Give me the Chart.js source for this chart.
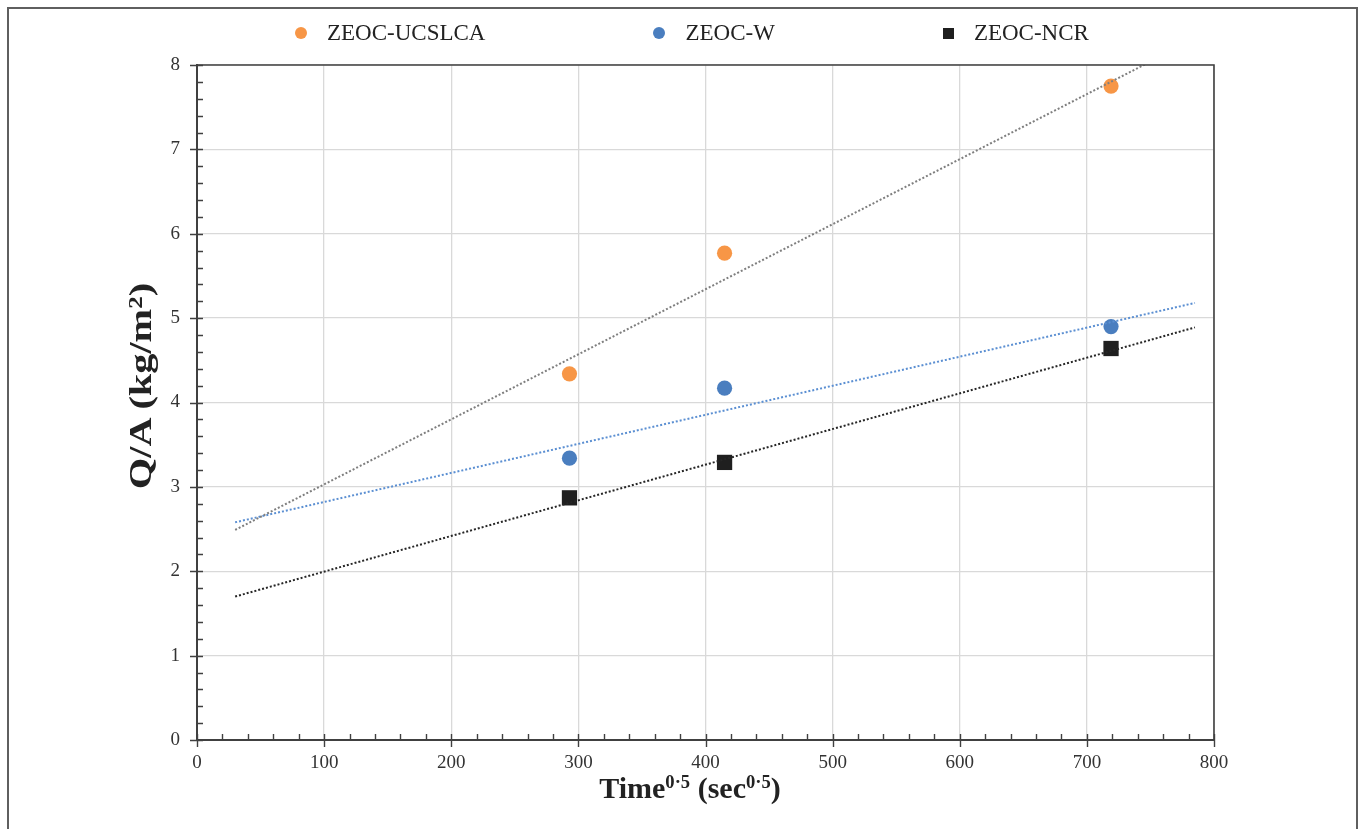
<!DOCTYPE html>
<html>
<head>
<meta charset="utf-8">
<script src="https://cdn.jsdelivr.net/npm/chart.js@4.4.1/dist/chart.umd.min.js"></script>
<style>
  body { margin: 0; background: #fff; }
  #wrap { position: relative; width: 1360px; height: 829px; overflow: hidden; }
  #frame {
    position: absolute; left: 7px; top: 7px; width: 1347px; height: 840px;
    border: 2px solid #5f5f5f; border-bottom: none;
  }
  #legend {
    position: absolute; left: 295px; top: 18px; display: flex; gap: 168px;
    font-family: "Liberation Serif", "Times New Roman", serif; font-size: 23px; color: #222;
  }
  .item { display: flex; align-items: center; height: 30px; }
  .mark { display: inline-block; margin-right: 20px; }
  .axis-title {
    position: absolute; font-family: "Liberation Serif", "Times New Roman", serif;
    font-weight: bold; color: #222; text-align: center; white-space: nowrap;
  }
  .axis-title sup { font-size: 62%; vertical-align: 0; position: relative; top: -0.55em; }
  #xTitle { left: 540px; width: 300px; top: 769px; height: 38px; line-height: 38px; font-size: 30px; }
  #yTitle {
    left: -5px; width: 300px; top: 367px; height: 38px; line-height: 38px; font-size: 32px;
    transform: translateX(-5px) rotate(-90deg) scale(1.26, 1);
  }
  #yTitle sup { top: -0.45em; }
</style>
</head>
<body>
<div id="wrap">
  <canvas id="chart" width="1360" height="829"></canvas>
  <div id="frame"></div>
  <div id="legend"></div>
  <div id="xTitle" class="axis-title"></div>
  <div id="yTitle" class="axis-title"></div>
</div>
<script>
// time^0.5
const timeSqrt = [293, 415, 719];

const seriesNames = ["ZEOC-UCSLCA", "ZEOC-W", "ZEOC-NCR"];
const ucslcaVals = [4.34, 5.77, 7.75];
const wVals = [3.34, 4.17, 4.90];
const ncrVals = [2.87, 3.29, 4.64];

// dotted trendline ends
const trendX = [30, 785];
const ucslcaTrend = [2.49, 8.31];
const wTrend = [2.58, 5.18];
const ncrTrend = [1.70, 4.89];

const xTicks = [0, 100, 200, 300, 400, 500, 600, 700, 800];
const yTicks = [0, 1, 2, 3, 4, 5, 6, 7, 8];

const xTitleHtml = "Time<sup>0·5</sup> (sec<sup>0·5</sup>)";
const yTitleHtml = "Q/A (kg/m<sup>2</sup>)";

const pointColors = ["#F79646", "#4A7EBF", "#1F1F1F"];
const trendColors = ["#7F7F7F", "#5B8FD2", "#262626"];
const pointStyles = ["circle", "circle", "rect"];

const serif = "'Liberation Serif', 'Times New Roman', serif";

function toPoints(xs, ys) {
  return xs.map((x, i) => ({ x, y: ys[i] }));
}

function pointSet(i, vals) {
  return {
    label: seriesNames[i],
    data: toPoints(timeSqrt, vals),
    pointStyle: pointStyles[i],
    pointRadius: pointStyles[i] === "rect" ? 10.8 : 7.6,
    backgroundColor: pointColors[i],
    borderColor: pointColors[i],
    borderWidth: 0,
    showLine: false,
    order: 1
  };
}

function trendSet(i, ends) {
  return {
    label: seriesNames[i] + " trend",
    data: toPoints(trendX, ends),
    showLine: true,
    borderColor: trendColors[i],
    borderWidth: 2,
    borderDash: [2, 2],
    pointRadius: 0,
    order: 0
  };
}

// plot border on top/right plus the small axis ticks
const axisTicks = {
  id: "axisTicks",
  afterDraw(chart) {
    const { ctx, chartArea: a, scales: { x, y } } = chart;
    ctx.save();
    ctx.strokeStyle = "#404040";
    ctx.lineWidth = 1.6;
    ctx.beginPath();
    ctx.moveTo(a.left, a.top);
    ctx.lineTo(a.right, a.top);
    ctx.lineTo(a.right, a.bottom);
    ctx.stroke();

    ctx.lineWidth = 1.4;
    ctx.beginPath();
    for (let i = 0; i <= 40; i++) {
      const py = Math.round(y.getPixelForValue(i / 5)) + 0.5;
      ctx.moveTo(a.left - (i % 5 === 0 ? 7 : 0), py);
      ctx.lineTo(a.left + 6, py);
      const px = Math.round(x.getPixelForValue(i * 20)) + 0.5;
      ctx.moveTo(px, a.bottom + (i % 5 === 0 ? 7 : 0));
      ctx.lineTo(px, a.bottom - 6);
    }
    ctx.stroke();
    ctx.restore();
  }
};

function buildLegend() {
  const box = document.getElementById("legend");
  seriesNames.forEach((name, i) => {
    const item = document.createElement("div");
    item.className = "item";
    const mark = document.createElement("span");
    mark.className = "mark";
    const size = pointStyles[i] === "rect" ? 11 : 12;
    mark.style.width = size + "px";
    mark.style.height = size + "px";
    mark.style.background = pointColors[i];
    if (pointStyles[i] === "circle") mark.style.borderRadius = "50%";
    const txt = document.createElement("span");
    txt.textContent = name;
    item.appendChild(mark);
    item.appendChild(txt);
    box.appendChild(item);
  });
  document.getElementById("xTitle").innerHTML = xTitleHtml;
  document.getElementById("yTitle").innerHTML = yTitleHtml;
}

function renderChart() {
  const ctx = document.getElementById("chart").getContext("2d");
  return new Chart(ctx, {
    type: "scatter",
    data: {
      datasets: [
        pointSet(0, ucslcaVals),
        pointSet(1, wVals),
        pointSet(2, ncrVals),
        trendSet(0, ucslcaTrend),
        trendSet(1, wTrend),
        trendSet(2, ncrTrend)
      ]
    },
    plugins: [axisTicks],
    options: {
      responsive: false,
      animation: false,
      layout: { padding: { left: 0, right: 146, top: 65, bottom: 0 } },
      plugins: {
        legend: { display: false },
        tooltip: { enabled: false }
      },
      scales: {
        x: {
          type: "linear",
          min: xTicks[0],
          max: xTicks[xTicks.length - 1],
          afterFit(scale) { scale.height = 89; },
          afterBuildTicks(scale) { scale.ticks = xTicks.map(v => ({ value: v })); },
          grid: { color: "#D9D9D9", lineWidth: 1.3, drawTicks: false },
          border: { color: "#404040", width: 2 },
          ticks: { padding: 12, color: "#333", font: { family: serif, size: 19 } }
        },
        y: {
          min: yTicks[0],
          max: yTicks[yTicks.length - 1],
          afterFit(scale) { scale.width = 197; },
          afterBuildTicks(scale) { scale.ticks = yTicks.map(v => ({ value: v })); },
          grid: { color: "#D9D9D9", lineWidth: 1.3, drawTicks: false },
          border: { color: "#404040", width: 2 },
          ticks: { padding: 17, color: "#333", font: { family: serif, size: 19 } }
        }
      }
    }
  });
}

buildLegend();
renderChart();
</script>
</body>
</html>
